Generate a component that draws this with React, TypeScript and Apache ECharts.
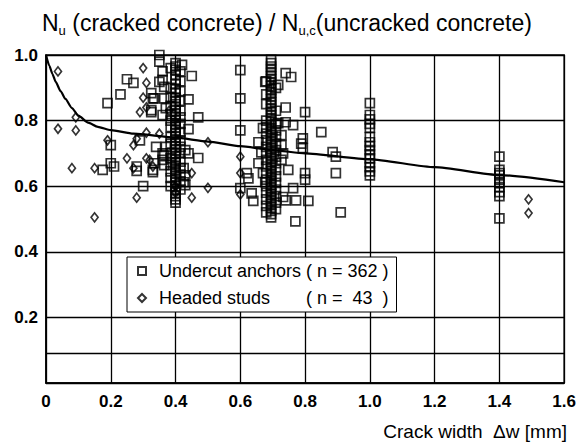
import React, { useEffect, useRef } from "react";
import * as echarts from "echarts";

// ---- Data ----
const xTicks = [0, 0.2, 0.4, 0.6, 0.8, 1.0, 1.2, 1.4, 1.6];
const yTicks = [0, 0.2, 0.4, 0.6, 0.8, 1.0];
const extraLineY = 0.085;

// fitted mean curve
const fitX = [0, 0.01, 0.02, 0.03, 0.045, 0.06, 0.08, 0.1, 0.13, 0.16, 0.2, 0.27, 0.4, 0.5, 0.6, 0.7, 0.8, 1.0, 1.2, 1.4, 1.6];
const fitY = [1.0, 0.968, 0.942, 0.918, 0.89, 0.866, 0.838, 0.815, 0.794, 0.781, 0.771, 0.76, 0.748, 0.736, 0.722, 0.71, 0.7, 0.682, 0.658, 0.634, 0.612];

// Undercut anchors: columns of tests at fixed crack widths
const col04X = 0.4;
const col04Y = [0.975, 0.965, 0.955, 0.94, 0.925, 0.91, 0.895, 0.885, 0.87, 0.86, 0.85, 0.84, 0.83, 0.82, 0.81, 0.8, 0.79, 0.78, 0.77, 0.76, 0.75, 0.74, 0.73, 0.72, 0.71, 0.7, 0.69, 0.68, 0.67, 0.66, 0.65, 0.64, 0.63, 0.62, 0.61, 0.6, 0.59, 0.58, 0.57, 0.56, 0.55];
const col04bX = 0.385;
const col04bY = [0.96, 0.9, 0.87, 0.845, 0.82, 0.8, 0.78, 0.75, 0.73, 0.7, 0.685, 0.665, 0.645, 0.625, 0.6];
const col04cX = 0.415;
const col04cY = [0.95, 0.92, 0.89, 0.86, 0.83, 0.81, 0.79, 0.765, 0.74, 0.72, 0.7, 0.675, 0.655, 0.635, 0.615, 0.59];
const col07X = 0.695;
const col07Y = [0.985, 0.975, 0.965, 0.955, 0.945, 0.935, 0.925, 0.915, 0.905, 0.895, 0.885, 0.875, 0.865, 0.855, 0.845, 0.835, 0.825, 0.815, 0.805, 0.795, 0.785, 0.775, 0.765, 0.755, 0.745, 0.735, 0.725, 0.715, 0.705, 0.695, 0.685, 0.675, 0.665, 0.655, 0.645, 0.635, 0.625, 0.615, 0.605, 0.595, 0.585, 0.575, 0.565, 0.555, 0.545, 0.535, 0.525, 0.515, 0.505];
const col07bX = 0.68;
const col07bY = [0.92, 0.88, 0.85, 0.8, 0.78, 0.76, 0.74, 0.72, 0.7, 0.68, 0.66, 0.64, 0.62, 0.6, 0.58, 0.56, 0.54, 0.52];
const col07cX = 0.71;
const col07cY = [0.9, 0.83, 0.79, 0.77, 0.75, 0.73, 0.71, 0.69, 0.67, 0.65, 0.63, 0.61, 0.59, 0.57, 0.55, 0.53];
const col10X = 1.0;
const col10Y = [0.853, 0.817, 0.804, 0.79, 0.778, 0.75, 0.734, 0.722, 0.71, 0.697, 0.685, 0.67, 0.658, 0.645, 0.633];
const col14X = 1.4;
const col14Y = [0.69, 0.65, 0.64, 0.633, 0.62, 0.61, 0.597, 0.582, 0.57, 0.502];

// Undercut anchors: scattered tests [crack width, ratio]
const undercutScatter = [
  [0.19, 0.853], [0.23, 0.88], [0.25, 0.926], [0.27, 0.915], [0.2, 0.725], [0.2, 0.67], [0.21, 0.66], [0.175, 0.65],
  [0.28, 0.66], [0.28, 0.647], [0.33, 0.643], [0.3, 0.6], [0.29, 0.74], [0.34, 0.72], [0.36, 0.7],
  [0.33, 0.868], [0.325, 0.826], [0.35, 1.0], [0.35, 0.98], [0.36, 0.95], [0.36, 0.924], [0.35, 0.918], [0.365, 0.903],
  [0.365, 0.868], [0.37, 0.838], [0.36, 0.817], [0.325, 0.884], [0.334, 0.868], [0.325, 0.832], [0.365, 0.664],
  [0.33, 0.65], [0.334, 0.67], [0.365, 0.695], [0.36, 0.68], [0.37, 0.72],
  [0.45, 0.936], [0.44, 0.865], [0.47, 0.81], [0.44, 0.774], [0.42, 0.97], [0.44, 0.7], [0.47, 0.686], [0.43, 0.71],
  [0.425, 0.655], [0.43, 0.633], [0.425, 0.612], [0.43, 0.603],
  [0.6, 0.954], [0.6, 0.868], [0.6, 0.77], [0.6, 0.594], [0.62, 0.64], [0.625, 0.624], [0.656, 0.67], [0.656, 0.734],
  [0.665, 0.703], [0.635, 0.578], [0.64, 0.555], [0.67, 0.777], [0.67, 0.64], [0.677, 0.612],
  [0.74, 0.945], [0.757, 0.933], [0.717, 0.909], [0.677, 0.918], [0.74, 0.84], [0.8, 0.826], [0.85, 0.765],
  [0.717, 0.792], [0.74, 0.795], [0.763, 0.786], [0.727, 0.756], [0.793, 0.746], [0.788, 0.73], [0.793, 0.716],
  [0.727, 0.725], [0.732, 0.7], [0.727, 0.68], [0.748, 0.65], [0.8, 0.64], [0.8, 0.62], [0.763, 0.594],
  [0.732, 0.567], [0.74, 0.557], [0.772, 0.557], [0.81, 0.555], [0.77, 0.493],
  [0.895, 0.69], [0.885, 0.704], [0.895, 0.64], [0.91, 0.52],
];

// Headed studs [crack width, ratio]
const studs = [
  [0.037, 0.95], [0.037, 0.775], [0.092, 0.77], [0.092, 0.81], [0.08, 0.655], [0.15, 0.655], [0.15, 0.505],
  [0.19, 0.74], [0.3, 0.96], [0.31, 0.915], [0.3, 0.87], [0.29, 0.826], [0.31, 0.84], [0.28, 0.745], [0.27, 0.725],
  [0.25, 0.685], [0.27, 0.655], [0.31, 0.685], [0.33, 0.66], [0.28, 0.565], [0.31, 0.763], [0.35, 0.76], [0.32, 0.68],
  [0.45, 0.64], [0.45, 0.565], [0.5, 0.595], [0.5, 0.734], [0.6, 0.69], [0.6, 0.64], [0.6, 0.575],
  [1.49, 0.56], [1.49, 0.518], [0.38, 0.83], [0.4, 0.6], [0.4, 0.58],
];

const seriesNames = ["Undercut anchors", "Headed studs"];
const seriesCounts = ["362", "43"];

const FONT = "'Liberation Sans', Arial, Helvetica, sans-serif";

export default function App() {
  const ref = useRef<HTMLDivElement>(null);

  useEffect(() => {
    if (!ref.current) return;
    const chart = echarts.init(ref.current, null, { renderer: "svg" });

    const col = (x: number, ys: number[]) => ys.map((y) => [x, y]);
    const undercut = [
      ...col(col04X, col04Y),
      ...col(col04bX, col04bY),
      ...col(col04cX, col04cY),
      ...col(col07X, col07Y),
      ...col(col07bX, col07bY),
      ...col(col07cX, col07cY),
      ...col(col10X, col10Y),
      ...col(col14X, col14Y),
      ...undercutScatter,
    ];
    const fit = fitX.map((x, i) => [x, fitY[i]]);

    const hollow = { color: "rgba(255,255,255,0)", borderColor: "#000", borderWidth: 1.7 };

    chart.setOption({
      animation: false,
      backgroundColor: "#fff",
      textStyle: { fontFamily: FONT },
      title: {
        left: 42,
        top: 8,
        padding: 0,
        text:
          "{n|N}{s|u}{t| (cracked concrete) / }{n|N}{s|u,c}{t|(uncracked concrete)}",
        textStyle: {
          fontWeight: "normal",
          rich: {
            n: { fontSize: 23, fontWeight: "normal", fontFamily: FONT, color: "#000", lineHeight: 29, verticalAlign: "middle" },
            t: { fontSize: 23, fontWeight: "normal", fontFamily: FONT, color: "#000", lineHeight: 29, verticalAlign: "middle" },
            s: { fontSize: 13, fontWeight: "normal", fontFamily: FONT, color: "#000", lineHeight: 12, verticalAlign: "bottom" },
          },
        },
      },
      legend: {
        data: seriesNames,
        orient: "vertical",
        left: 127,
        top: 257,
        padding: [5, 8, 5, 10],
        itemGap: 9,
        itemWidth: 8,
        itemHeight: 8,
        backgroundColor: "#fff",
        borderColor: "#000",
        borderWidth: 1,
        borderRadius: 0,
        selectedMode: false,
        formatter: (name: string) => {
          const i = seriesNames.indexOf(name);
          return `{sp|}{a|${name}}{b|(\u00a0n\u00a0=\u00a0}{c|${seriesCounts[i]}}{b|\u00a0)}`;
        },
        textStyle: {
          fontSize: 18,
          fontFamily: FONT,
          color: "#000",
          rich: {
            sp: { width: 8 },
            a: { fontSize: 18, fontFamily: FONT, width: 147 },
            b: { fontSize: 18, fontFamily: FONT },
            c: { fontSize: 18, fontFamily: FONT, width: 30, align: "right" },
          },
        },
      },
      grid: {
        left: 46,
        right: 12,
        top: 55,
        bottom: 65,
        show: true,
        borderColor: "#000",
        borderWidth: 1.5,
        backgroundColor: "#fff",
      },
      xAxis: {
        type: "value",
        min: xTicks[0],
        max: xTicks[xTicks.length - 1],
        interval: 0.2,
        axisLine: { show: true, lineStyle: { color: "#000", width: 1.5 } },
        axisTick: { show: false },
        splitLine: { show: true, lineStyle: { color: "#000", width: 1.3 } },
        axisLabel: {
          margin: 10,
          fontSize: 17,
          fontWeight: "bold",
          fontFamily: FONT,
          color: "#000",
          formatter: (v: number) => (v === 0 ? "0" : v.toFixed(1)),
        },
      },
      yAxis: {
        type: "value",
        min: yTicks[0],
        max: yTicks[yTicks.length - 1],
        interval: 0.2,
        axisLine: { show: true, lineStyle: { color: "#000", width: 1.5 } },
        axisTick: { show: false },
        splitLine: { show: true, lineStyle: { color: "#000", width: 1.3 } },
        axisLabel: {
          margin: 8,
          fontSize: 17,
          fontWeight: "bold",
          fontFamily: FONT,
          color: "#000",
          formatter: (v: number) => (v === 0 ? "" : v.toFixed(1)),
        },
      },
      graphic: [
        {
          type: "text",
          right: 12,
          top: 422,
          style: {
            text: "Crack width  \u0394w [mm]",
            font: `19px ${FONT}`,
            fill: "#000",
          },
        },
      ],
      series: [
        {
          name: "Undercut anchors",
          type: "scatter",
          symbol: "rect",
          symbolSize: 9,
          itemStyle: hollow,
          data: undercut,
          z: 3,
        },
        {
          name: "Headed studs",
          type: "scatter",
          symbol: "diamond",
          symbolSize: [7, 9],
          itemStyle: hollow,
          data: studs,
          z: 3,
        },
        {
          name: "fit",
          type: "line",
          data: fit,
          smooth: 0.2,
          smoothMonotone: "x",
          symbol: "none",
          lineStyle: { color: "#000", width: 2.2 },
          z: 4,
          markLine: {
            silent: true,
            symbol: "none",
            label: { show: false },
            lineStyle: { color: "#000", width: 1.3, type: "solid" },
            data: [{ yAxis: extraLineY }],
          },
        },
      ],
    });

    return () => chart.dispose();
  }, []);

  return <div ref={ref} style={{ width: 579, height: 448, position: "absolute", left: 0, top: 0 }} />;
}
